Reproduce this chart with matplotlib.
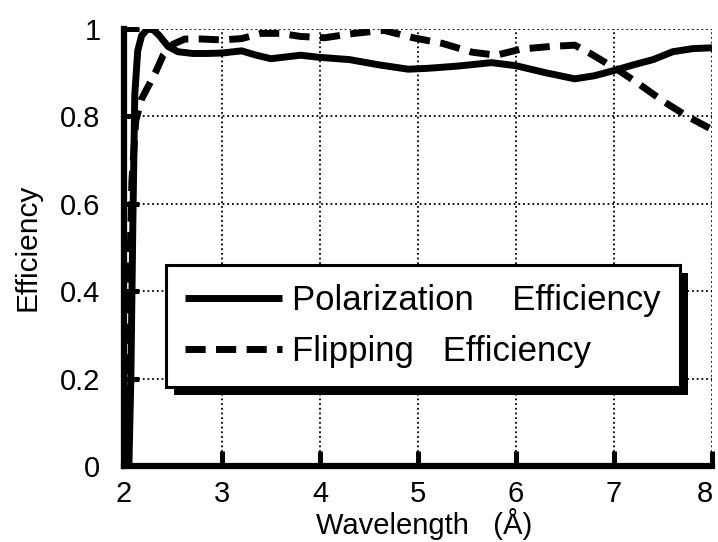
import matplotlib
matplotlib.use('Agg')
import matplotlib.pyplot as plt
import matplotlib.transforms as mtransforms
from matplotlib.patches import Rectangle

plt.rcParams['font.family'] = ['Liberation Sans', 'DejaVu Sans']

# polarization efficiency (solid line)
pol_wavelength = [2.05, 2.07, 2.09, 2.11, 2.14, 2.18, 2.24, 2.30, 2.36, 2.45, 2.55, 2.70,
                  2.85, 3.00, 3.20, 3.35, 3.50, 3.80, 4.00, 4.30, 4.60, 4.90, 5.10, 5.40,
                  5.75, 6.00, 6.30, 6.60, 6.80, 7.00, 7.20, 7.40, 7.60, 7.80, 8.00]
pol_efficiency = [0.0, 0.2, 0.55, 0.85, 0.95, 0.985, 1.0, 0.998, 0.985, 0.96, 0.948, 0.944,
                  0.944, 0.945, 0.95, 0.94, 0.932, 0.94, 0.935, 0.93, 0.918, 0.908, 0.91, 0.915,
                  0.923, 0.916, 0.9, 0.886, 0.893, 0.905, 0.918, 0.93, 0.948, 0.955, 0.957]

# flipping efficiency (dashed line)
flip_wavelength = [2.02, 2.05, 2.08, 2.12, 2.18, 2.25, 2.32, 2.40, 2.50, 2.62, 2.80, 3.00,
                   3.20, 3.40, 3.60, 3.80, 4.05, 4.35, 4.65, 4.95, 5.25, 5.55, 5.80, 6.05,
                   6.35, 6.60, 6.75, 6.90, 7.05, 7.25, 7.50, 7.75, 8.00]
flip_efficiency = [0.0, 0.35, 0.65, 0.79, 0.84, 0.87, 0.9, 0.94, 0.965, 0.977, 0.977, 0.975,
                   0.978, 0.99, 0.99, 0.983, 0.98, 0.99, 0.997, 0.98, 0.967, 0.947, 0.94, 0.954,
                   0.96, 0.963, 0.945, 0.925, 0.905, 0.875, 0.835, 0.8, 0.77]

x_ticks = [2, 3, 4, 5, 6, 7, 8]
y_ticks = [0, 0.2, 0.4, 0.6, 0.8, 1]
y_tick_labels = ['0', '0.2', '0.4', '0.6', '0.8', '1']


fig = plt.figure(figsize=(7.18, 5.42), dpi=100)
ax = fig.add_axes([0.1727, 0.1402, 0.8189, 0.8063])

line_pol, = ax.plot(pol_wavelength, pol_efficiency, color='black', linewidth=5,
                    solid_capstyle='butt', label='Polarization    Efficiency', zorder=3)
line_flip, = ax.plot(flip_wavelength, flip_efficiency, color='black', linewidth=5,
                     linestyle=(0, (2.9, 1.5)), dash_capstyle='butt',
                     label='Flipping   Efficiency', zorder=3)

ax.set_xlim(2, 8)
ax.set_ylim(0, 1)
ax.set_xticks(x_ticks)
ax.set_yticks(y_ticks)
ax.set_yticklabels(y_tick_labels)

ax.grid(True, color='black', linestyle=(0, (1, 1.6)), linewidth=1.3)
ax.set_axisbelow(True)

for side in ['top', 'right']:
    ax.spines[side].set_visible(False)
for side in ['left', 'bottom']:
    ax.spines[side].set_linewidth(4.5)

ax.tick_params(direction='in', length=11, width=3.6, labelsize=21, colors='black')
ax.tick_params(axis='x', pad=10)
ax.tick_params(axis='y', pad=17)

# last x label sits a little inside the right edge
last = ax.get_xticklabels()[-1]
last.set_transform(last.get_transform() + mtransforms.ScaledTranslation(-7 / 100, 0, fig.dpi_scale_trans))

ax.set_xlabel('Wavelength   (Å)', fontsize=21, labelpad=0)
ax.xaxis.label.set_x(0.51)
ax.set_ylabel('Efficiency', fontsize=21.5, labelpad=13)

leg = ax.legend(handles=[line_pol, line_flip], loc='upper left', bbox_to_anchor=(0.0715, 0.46),
                fontsize=25, handlelength=2.8, handletextpad=0.29, labelspacing=0.52,
                borderpad=0.55, borderaxespad=0, fancybox=False, framealpha=1,
                edgecolor='black')
leg.get_frame().set_linewidth(2.2)
leg.set_zorder(6)

# black drop shadow behind the legend box
fig.canvas.draw()
bb = leg.get_window_extent().transformed(ax.transAxes.inverted())
px = 8.0 / ax.bbox.width
py = 8.0 / ax.bbox.height
shadow = Rectangle((bb.x0 + px, bb.y0 - py), bb.width, bb.height, transform=ax.transAxes,
                   facecolor='black', edgecolor='none', clip_on=False, zorder=5)
ax.add_patch(shadow)

fig.savefig('out.png', dpi=100)
